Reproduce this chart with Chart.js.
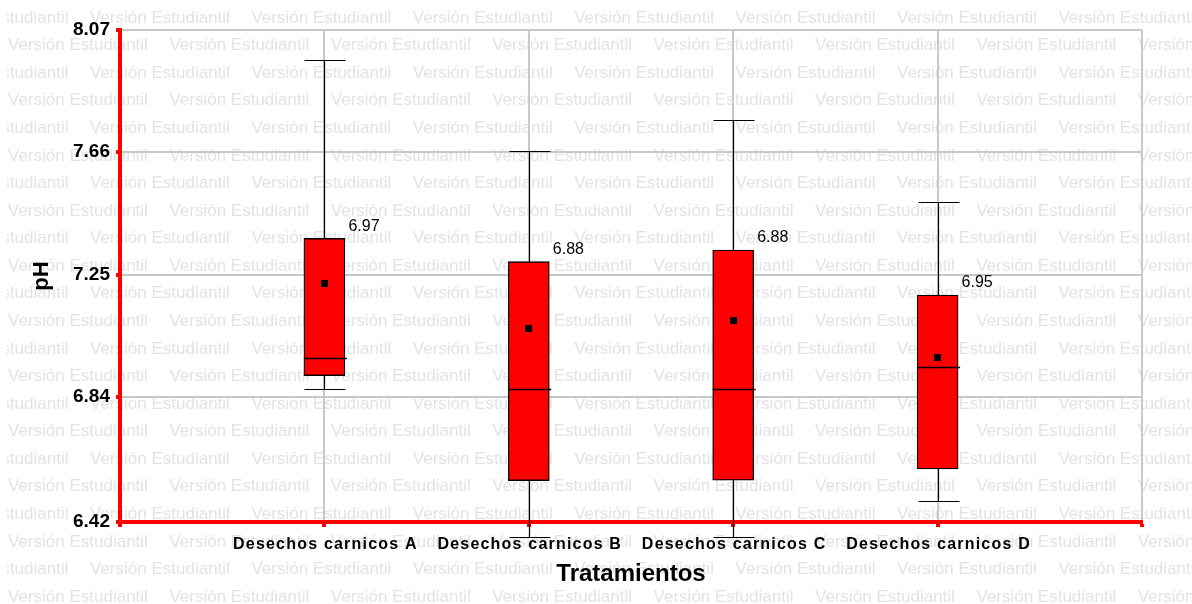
<!DOCTYPE html>
<html lang="es">
<head>
<meta charset="UTF-8">
<title>pH por tratamiento</title>
<script src="https://cdn.jsdelivr.net/npm/chart.js"></script>
<style>
    html, body { margin: 0; padding: 0; background: #fff; }
    #wrap { width: 1192px; height: 604px; }
</style>
</head>
<body>
<div id="wrap"><canvas id="phChart" width="1192" height="604"></canvas></div>
<script>
// Tratamientos (x) and box plot stats for pH (y)
const categories = ['Desechos carnicos A', 'Desechos carnicos B', 'Desechos carnicos C', 'Desechos carnicos D'];
const whiskerLow = [6.866, 6.369, 6.370, 6.490];
const q1 = [6.911, 6.559, 6.560, 6.598];
const median = [6.969, 6.866, 6.865, 6.940];
const q3 = [7.371, 7.293, 7.332, 7.181];
const whiskerHigh = [7.969, 7.665, 7.768, 7.494];
const means = [7.220, 7.070, 7.097, 6.972];
const medianLabels = [6.97, 6.88, 6.88, 6.95];
const yTicks = [6.42, 6.84, 7.25, 7.66, 8.07];
const xTicks = [0, 1, 2, 3, 4, 5];

const FONT = "'Liberation Sans', Arial, sans-serif";
Chart.defaults.font.family = FONT;

// watermark, whiskers, medians, means and labels
const boxExtras = {
    id: 'boxExtras',
    beforeDraw(chart) {
        const ctx = chart.ctx;
        ctx.save();
        ctx.beginPath();
        ctx.rect(7, 0, chart.width - 7, chart.height);
        ctx.clip();
        ctx.font = '17px ' + FONT;
        ctx.fillStyle = '#e3e3e3';
        ctx.textBaseline = 'middle';
        for (let r = 0; r < 22; r++) {
            const y = 18 + r * 27.57;
            for (let x = (r % 2 ? 8 : -71.4); x < chart.width; x += 161.4) {
                ctx.fillText('Versión Estudiantil', x, y);
            }
        }
        ctx.restore();
    },
    beforeDatasetsDraw(chart) {
        const { ctx, scales: { x, y } } = chart;
        ctx.save();
        ctx.strokeStyle = '#000';
        ctx.lineWidth = 1.2;
        categories.forEach((c, i) => {
            const px = Math.round(x.getPixelForValue(i + 1)) + 0.5;
            const top = Math.round(y.getPixelForValue(whiskerHigh[i])) + 0.5;
            const bot = Math.round(y.getPixelForValue(whiskerLow[i])) + 0.5;
            ctx.beginPath();
            ctx.moveTo(px, top); ctx.lineTo(px, bot);
            ctx.moveTo(px - 20, top); ctx.lineTo(px + 21, top);
            ctx.moveTo(px - 20, bot); ctx.lineTo(px + 21, bot);
            ctx.stroke();
        });
        ctx.restore();
    },
    afterDatasetsDraw(chart) {
        const { ctx, scales: { x, y } } = chart;
        ctx.save();
        categories.forEach((c, i) => {
            const px = x.getPixelForValue(i + 1);
            const my = Math.round(y.getPixelForValue(median[i])) + 0.5;
            ctx.strokeStyle = '#000';
            ctx.lineWidth = 1.5;
            ctx.beginPath();
            ctx.moveTo(px - 20.5, my); ctx.lineTo(px + 22.5, my);
            ctx.stroke();

            const ay = y.getPixelForValue(means[i]);
            ctx.fillStyle = '#000';
            ctx.fillRect(Math.round(px - 3.5), Math.round(ay - 3.5), 7, 7);

            ctx.font = '16px ' + FONT;
            ctx.textAlign = 'left';
            ctx.textBaseline = 'middle';
            ctx.fillText(medianLabels[i].toFixed(2), px + 24, y.getPixelForValue(q3[i]) - 12);
        });
        ctx.restore();
    },
    afterDraw(chart) {
        const { ctx, scales: { x } } = chart;
        ctx.save();
        ctx.font = 'bold 16px ' + FONT;
        ctx.fillStyle = '#000';
        ctx.textAlign = 'center';
        ctx.textBaseline = 'middle';
        ctx.letterSpacing = '1.2px';
        categories.forEach((c, i) => {
            ctx.fillText(c, x.getPixelForValue(i + 1) + 1, x.top + 23);
        });
        ctx.restore();
    }
};

new Chart(document.getElementById('phChart'), {
    type: 'bar',
    data: {
        datasets: [{
            data: categories.map((c, i) => ({ x: i + 1, y: [q1[i], q3[i]] })),
            backgroundColor: '#ff0000',
            borderColor: '#000',
            borderWidth: 1.3,
            borderSkipped: false,
            barThickness: 41
        }]
    },
    options: {
        responsive: false,
        animation: false,
        layout: { padding: { top: 30, right: 50, left: 0, bottom: 0 } },
        plugins: { legend: { display: false }, tooltip: { enabled: false } },
        scales: {
            x: {
                type: 'linear',
                min: 0,
                max: 5,
                offset: false,
                afterBuildTicks: s => { s.ticks = xTicks.map(v => ({ value: v })); },
                afterFit: s => { s.height = 82; },
                ticks: { display: false },
                grid: {
                    offset: false,
                    color: c => (c.tick && c.tick.value === 0) ? 'rgba(0,0,0,0)' : '#c8c8c8',
                    lineWidth: 2,
                    tickColor: '#ff0000',
                    tickLength: 5,
                    tickWidth: 4
                },
                border: { color: '#ff0000', width: 4 },
                title: {
                    display: true,
                    text: 'Tratamientos',
                    color: '#000',
                    font: { size: 24, weight: 'bold' },
                    padding: { top: 0, bottom: 15 }
                }
            },
            y: {
                min: 6.42,
                max: 8.07,
                beginAtZero: false,
                afterBuildTicks: s => { s.ticks = yTicks.map(v => ({ value: v })); },
                afterFit: s => { s.width = 120; },
                ticks: {
                    autoSkip: false,
                    callback: v => v.toFixed(2),
                    color: '#000',
                    font: { size: 19, weight: 'bold' },
                    padding: 6
                },
                grid: {
                    color: c => (c.tick && c.tick.value === yTicks[0]) ? 'rgba(0,0,0,0)' : '#c8c8c8',
                    lineWidth: 2,
                    tickColor: '#ff0000',
                    tickLength: 4,
                    tickWidth: 4
                },
                border: { color: '#ff0000', width: 4 },
                title: {
                    display: true,
                    text: 'pH',
                    color: '#000',
                    font: { size: 22, weight: 'bold' },
                    padding: { top: 29, bottom: 0 }
                }
            }
        }
    },
    plugins: [boxExtras]
});
</script>
</body>
</html>
